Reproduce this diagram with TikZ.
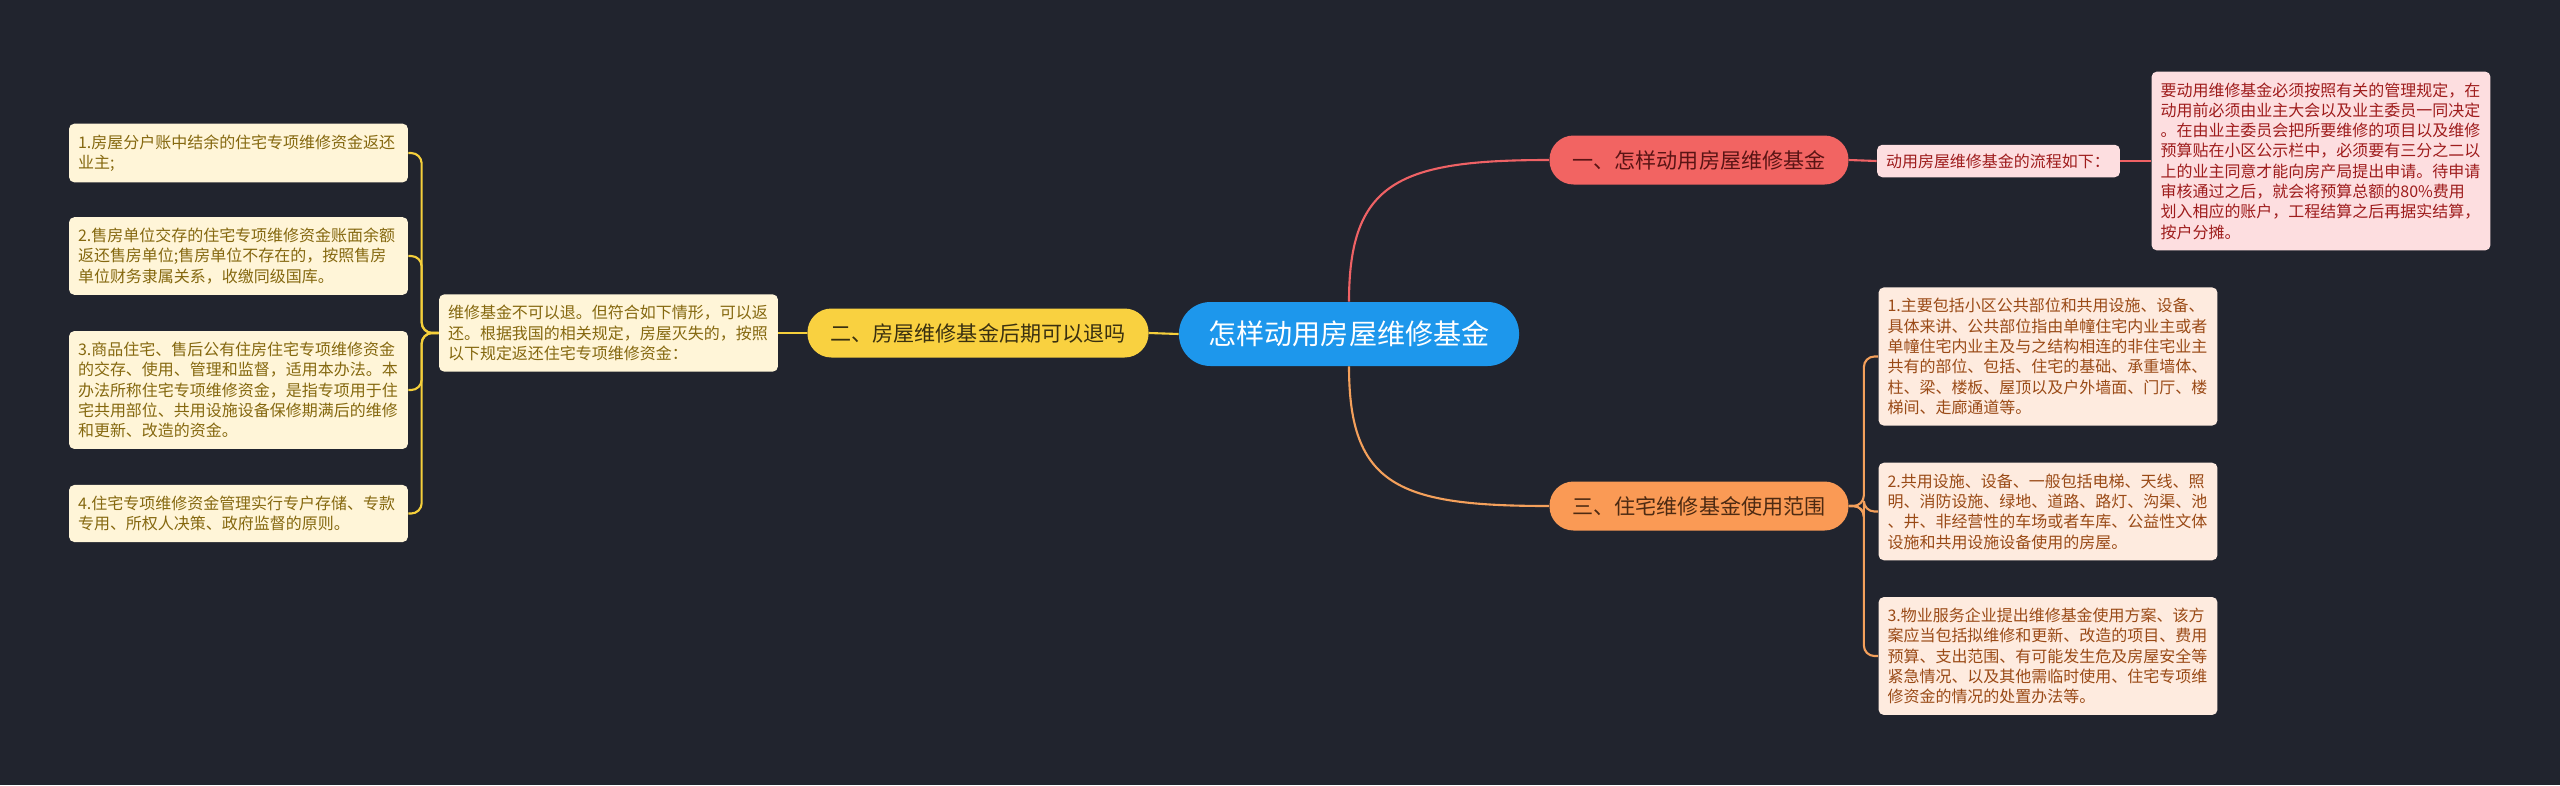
\documentclass[tikz,border=0pt]{standalone}
\usepackage{fontspec}
\setmainfont{Noto Sans CJK SC}

\definecolor{bgdark}{HTML}{21242E}
\definecolor{rootblue}{HTML}{1D97EC}
\definecolor{redtopic}{HTML}{F26462}
\definecolor{ylwtopic}{HTML}{F9D140}
\definecolor{orgtopic}{HTML}{FA9A55}
\definecolor{redtext}{HTML}{5A1414}
\definecolor{ylwtext}{HTML}{3A3010}
\definecolor{orgtext}{HTML}{4D2A12}
\definecolor{redleaf}{HTML}{FDDEE0}
\definecolor{ylwleaf}{HTML}{FFF5D8}
\definecolor{orgleaf}{HTML}{FEEBDF}
\definecolor{redleaftext}{HTML}{9E1C1C}
\definecolor{ylwleaftext}{HTML}{85680F}
\definecolor{orgleaftext}{HTML}{9A4A16}
\definecolor{redline}{HTML}{EF6265}
\definecolor{ylwline}{HTML}{F5CF3B}
\definecolor{orgline}{HTML}{F4A05B}

\begin{document}
\begin{tikzpicture}[
    x=0.02cm, y=-0.02cm,
    root/.style={fill=rootblue, text=white, font=\fontsize{16}{19}\selectfont,
        rounded corners=0.63cm, minimum height=1.28cm, inner xsep=0.59cm, inner ysep=0pt},
    topic/.style={font=\fontsize{12}{14}\selectfont, rounded corners=0.48cm,
        minimum height=0.98cm, inner xsep=0.46cm, inner ysep=0pt},
    leaf/.style={font=\fontsize{9.1}{11.55}\selectfont, rounded corners=3pt,
        text width=6.42cm, align=left, inner xsep=0.18cm, inner ysep=6.2pt},
    link/.style={line width=1.2pt, rounded corners=6pt},
]
\useasboundingbox (0,0) rectangle (2560,785);
\fill[bgdark] (0,0) rectangle (2560,785);
% ============================================================
% centre + main topics
% ============================================================
\node[root] (root) at (1349,334) {怎样动用房屋维修基金};
\node[topic, fill=redtopic, text=redtext] (use) at (1699,160) {一、怎样动用房屋维修基金};
\node[topic, fill=ylwtopic, text=ylwtext] (refund) at (978,333) {二、房屋维修基金后期可以退吗};
\node[topic, fill=orgtopic, text=orgtext] (scope) at (1699,506) {三、住宅维修基金使用范围};
% ============================================================
% (一) right of the red topic
% ============================================================
\node[leaf, fill=redleaf, text=redleaftext, text width=4.5cm, inner ysep=5pt] (flow) at (1998.5,161)
    {动用房屋维修基金的流程如下：};
\node[leaf, fill=redleaf, text=redleaftext] (flowtxt) at (2321,161)
    {要动用维修基金必须按照有关的管理规定，在\\动用前必须由业主大会以及业主委员一同决定\\。在由业主委员会把所要维修的项目以及维修\\预算贴在小区公示栏中，必须要有三分之二以\\上的业主同意才能向房产局提出申请。待申请\\审核通过之后，就会将预算总额的80\%费用\\划入相应的账户，工程结算之后再据实结算，\\按户分摊。};
% ============================================================
% (二) left of the yellow topic
% ============================================================
\node[leaf, fill=ylwleaf, text=ylwleaftext] (refundtxt) at (608.5,333)
    {维修基金不可以退。但符合如下情形，可以返\\还。根据我国的相关规定，房屋灭失的，按照\\以下规定返还住宅专项维修资金：};
\node[leaf, fill=ylwleaf, text=ylwleaftext] (case1) at (238.5,153)
    {1.房屋分户账中结余的住宅专项维修资金返还\\业主;};
\node[leaf, fill=ylwleaf, text=ylwleaftext] (case2) at (238.5,256)
    {2.售房单位交存的住宅专项维修资金账面余额\\返还售房单位;售房单位不存在的，按照售房\\单位财务隶属关系，收缴同级国库。};
\node[leaf, fill=ylwleaf, text=ylwleaftext] (case3) at (238.5,390)
    {3.商品住宅、售后公有住房住宅专项维修资金\\的交存、使用、管理和监督，适用本办法。本\\办法所称住宅专项维修资金，是指专项用于住\\宅共用部位、共用设施设备保修期满后的维修\\和更新、改造的资金。};
\node[leaf, fill=ylwleaf, text=ylwleaftext] (case4) at (238.5,513.5)
    {4.住宅专项维修资金管理实行专户存储、专款\\专用、所权人决策、政府监督的原则。};
% ============================================================
% (三) right of the orange topic
% ============================================================
\node[leaf, fill=orgleaf, text=orgleaftext] (part1) at (2048,356.5)
    {1.主要包括小区公共部位和共用设施、设备、\\具体来讲、公共部位指由单幢住宅内业主或者\\单幢住宅内业主及与之结构相连的非住宅业主\\共有的部位、包括、住宅的基础、承重墙体、\\柱、梁、楼板、屋顶以及户外墙面、门厅、楼\\梯间、走廊通道等。};
\node[leaf, fill=orgleaf, text=orgleaftext] (part2) at (2048,511.5)
    {2.共用设施、设备、一般包括电梯、天线、照\\明、消防设施、绿地、道路、路灯、沟渠、池\\、井、非经营性的车场或者车库、公益性文体\\设施和共用设施设备使用的房屋。};
\node[leaf, fill=orgleaf, text=orgleaftext] (part3) at (2048,656)
    {3.物业服务企业提出维修基金使用方案、该方\\案应当包括拟维修和更新、改造的项目、费用\\预算、支出范围、有可能发生危及房屋安全等\\紧急情况、以及其他需临时使用、住宅专项维\\修资金的情况的处置办法等。};
% ============================================================
% connectors
% ============================================================
\draw[link, redline] (root.north) .. controls +(0,-120) and +(-150,0) .. (use.west);
\draw[link, orgline] (root.south) .. controls +(0,120) and +(-150,0) .. (scope.west);
\draw[link, ylwline] (root.west) -- (refund.east);
\draw[link, redline] (use.east) -- (flow.west);
\draw[link, redline] (flow.east) -- (flowtxt.west);
\draw[link, ylwline] (refund.west) -- (refundtxt.east);
\foreach \c in {case1, case2, case3, case4}
    \draw[link, ylwline] (refundtxt.west) -- ++(-17,0) |- (\c.east);
\foreach \p in {part1, part2, part3}
    \draw[link, orgline] (scope.east) -- ++(15,0) |- (\p.west);
\end{tikzpicture}
\end{document}
